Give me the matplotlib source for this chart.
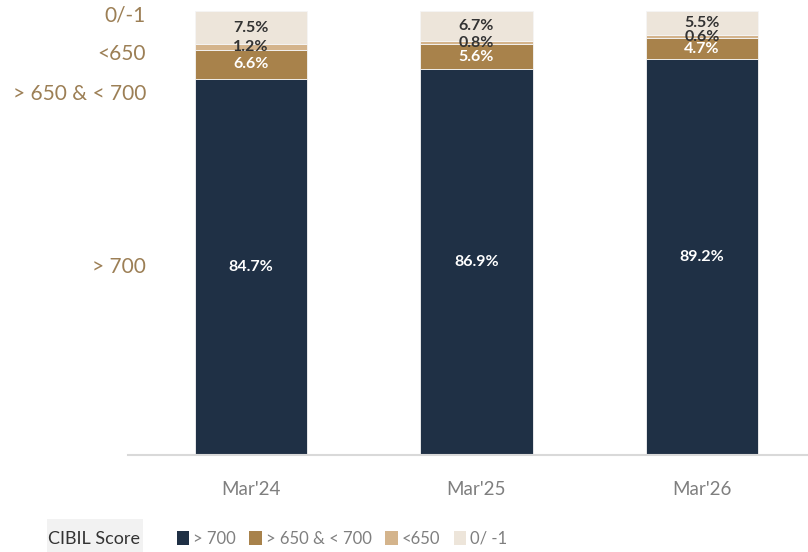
import matplotlib.pyplot as plt
from matplotlib.patches import Patch, Rectangle

# data
periods = ["Mar'24", "Mar'25", "Mar'26"]
above_700 = [84.7, 86.9, 89.2]
between_650_700 = [6.6, 5.6, 4.7]
below_650 = [1.2, 0.8, 0.6]
zero_minus1 = [7.5, 6.7, 5.5]

series = [
    ("> 700", above_700, "#1F3045", "white"),
    ("> 650 & < 700", between_650_700, "#A8824B", "white"),
    ("<650", below_650, "#D4B48C", "#333333"),
    ("0/ -1", zero_minus1, "#EDE5DA", "#333333"),
]

plt.rcParams['font.family'] = ['Lato', 'DejaVu Sans']

fig = plt.figure(figsize=(8.08, 5.52), dpi=100)
ax = fig.add_axes([128 / 808, 97 / 552, 680 / 808, 444 / 552])

x = list(range(len(periods)))
bottom = [0.0] * len(periods)
for name, vals, color, txtcolor in series:
    ax.bar(x, vals, width=0.497, bottom=bottom, color=color,
           edgecolor="#F5F5F5", linewidth=0.6)
    for i, v in enumerate(vals):
        ax.text(x[i], bottom[i] + v / 2, f"{v:.1f}%", ha="center", va="center",
                color=txtcolor, fontsize=11.5, fontweight="bold")
    bottom = [b + v for b, v in zip(bottom, vals)]

ax.set_xlim(-0.545, 2.47)
ax.set_ylim(0, 100)
ax.set_xticks(x)
ax.set_xticklabels(periods, fontsize=13.5, color="#7F7F7F")
ax.tick_params(axis="x", length=0, pad=19)
ax.set_yticks([])
for s in ["top", "right", "left"]:
    ax.spines[s].set_visible(False)
ax.spines["bottom"].set_color("#D9D9D9")
ax.spines["bottom"].set_linewidth(1.5)

# category labels on the left
side_labels = [("0/-1", 98.9), ("<650", 90.3), ("> 650 & < 700", 81.3), ("> 700", 42.3)]
for txt, yv in side_labels:
    ax.text(-0.465, yv, txt, ha="right", va="center", fontsize=15, color="#9C7F55")

# bottom legend
fig.patches.append(Rectangle((47 / 808, 0), 96 / 808, 33 / 552, transform=fig.transFigure,
                             facecolor="#F2F2F2", edgecolor="none"))
fig.text(94 / 808, 1 - 539 / 552, "CIBIL Score", ha="center", va="center",
         fontsize=13, color="#333333")

handles = [Patch(facecolor=c, edgecolor="none", label=n) for n, _, c, _ in series]
leg = fig.legend(handles=handles, loc="center left", bbox_to_anchor=(170 / 808, 1 - 539 / 552),
                 ncol=4, frameon=False, fontsize=12, handlelength=0.75, handleheight=0.95,
                 handletextpad=0.25, columnspacing=0.8, borderaxespad=0)
for t in leg.get_texts():
    t.set_color("#7F7F7F")

fig.savefig("out.png", dpi=100)
